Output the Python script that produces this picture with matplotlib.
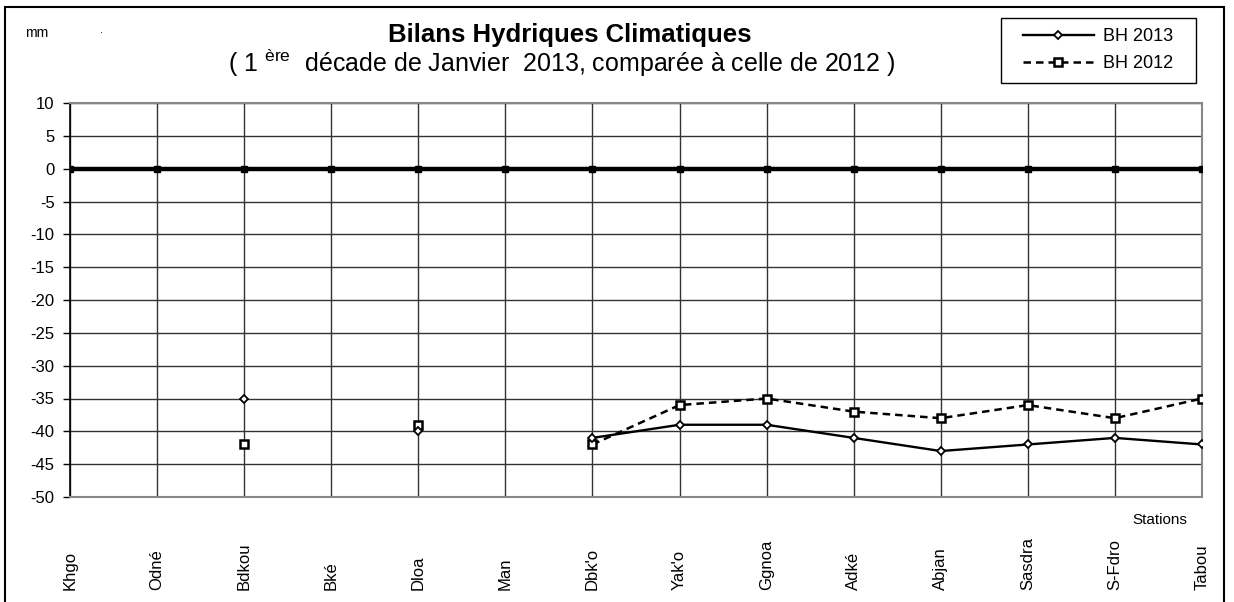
import matplotlib
matplotlib.use("Agg")
import matplotlib.pyplot as plt
import matplotlib.transforms as mtransforms
from matplotlib.patches import Rectangle
import numpy as np

plt.rcParams['font.family'] = ['Liberation Sans', 'DejaVu Sans']

stations = ["Khgo", "Odné", "Bdkou", "Bké", "Dloa", "Man", "Dbk'o",
            "Yak'o", "Ggnoa", "Adké", "Abjan", "Sasdra", "S-Fdro", "Tabou"]
nan = np.nan
bh2013 = [nan, nan, -35, nan, -40, nan, -41, -39, -39, -41, -43, -42, -41, -42]
bh2012 = [nan, nan, -42, nan, -39, nan, -42, -36, -35, -37, -38, -36, -38, -35]
zero_line = [0] * len(stations)
yticks = list(range(-50, 11, 5))

W, H = 1234, 602
fig = plt.figure(figsize=(W / 100, H / 100), dpi=100)
ax = fig.add_axes([70 / W, 1 - 497 / H, (1202 - 70) / W, (497 - 103) / H])

x = np.arange(len(stations))

ax.plot(x, zero_line, color='black', lw=3.2, marker='s', ms=4.5,
        mfc='black', mec='black', zorder=3)
ax.plot(x, bh2012, color='black', lw=1.8, ls=(0, (3, 2)), marker='s', ms=6,
        mfc='white', mec='black', mew=1.8, label='BH 2012', zorder=4)
ax.plot(x, bh2013, color='black', lw=1.7, ls='-', marker='D', ms=4.5,
        mfc='white', mec='black', mew=1.3, label='BH 2013', zorder=5)

ax.set_xlim(0, len(stations) - 1)
ax.set_ylim(-50, 10)
ax.set_yticks(yticks)
ax.set_yticklabels([str(v) for v in yticks], fontsize=12)
ax.set_xticks(x)
ax.set_xticklabels([])
ax.tick_params(axis='y', direction='out', length=5, width=1, color='black', pad=6)
ax.tick_params(axis='x', direction='out', length=0)
ax.grid(True, color='#333333', lw=1.0)
ax.set_axisbelow(True)
for s in ['top', 'right', 'bottom']:
    ax.spines[s].set_color('#888888')
    ax.spines[s].set_linewidth(1.5)
ax.spines['left'].set_color('black')
ax.spines['left'].set_linewidth(1.2)

# rotated station labels anchored at bottom
trans = mtransforms.blended_transform_factory(ax.transData, fig.transFigure)
for xi, name in zip(x, stations):
    ax.text(xi, 1 - 590 / H, name, rotation=90, ha='center', va='bottom',
            fontsize=12, transform=trans, clip_on=False)

fig.text(1187 / W, 1 - 520 / H, "Stations", ha='right', va='center',
         fontsize=11)

# titles
fig.text(570 / W, 1 - 35 / H, "Bilans Hydriques Climatiques", ha='center',
         va='center', fontsize=18.5, fontweight='bold')
fig.text(562 / W, 1 - 63 / H,
         r"( 1 $^{\mathregular{ère}}$  décade de Janvier  2013, comparée à celle de 2012 )",
         ha='center', va='center', fontsize=18)
fig.text(25 / W, 1 - 33 / H, "mm", ha='left', va='center', fontsize=10)
fig.text(100 / W, 1 - 30 / H, ".", ha='left', va='center', fontsize=8)

# legend (frame drawn separately)
handles, labels = ax.get_legend_handles_labels()
order = [1, 0]
leg = fig.legend([handles[i] for i in order], [labels[i] for i in order],
                 loc='center', bbox_to_anchor=(1098 / W, 1 - 50 / H),
                 fontsize=13, frameon=False, handlelength=3.9,
                 borderpad=0.2, labelspacing=0.55, handletextpad=0.5)
fig.patches.append(Rectangle((1001 / W, 1 - 83 / H), (1196 - 1001) / W, 65 / H,
                             transform=fig.transFigure, fill=False,
                             edgecolor='black', lw=1.0))

# outer frame
fig.patches.append(Rectangle((5 / W, -0.01), (1224 - 5) / W, 1 - 7 / H + 0.01,
                             transform=fig.transFigure, fill=False,
                             edgecolor='black', lw=1.5))

fig.savefig("out.png", dpi=100)
